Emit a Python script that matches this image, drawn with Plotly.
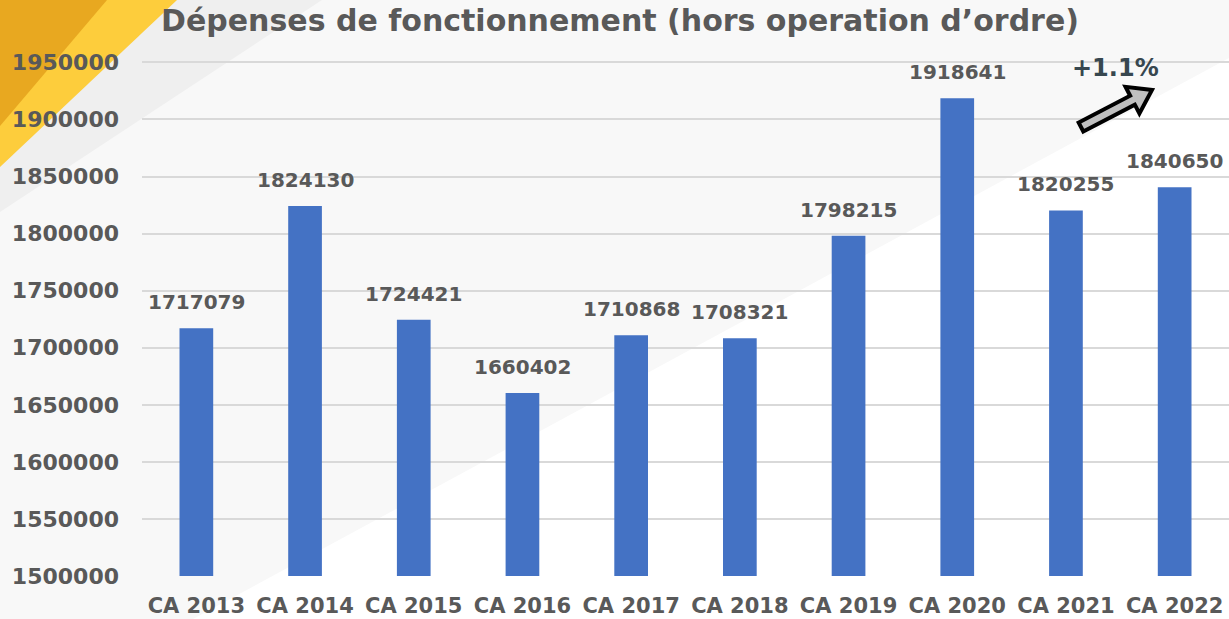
import math
import plotly.graph_objects as go

categories = ["CA 2013", "CA 2014", "CA 2015", "CA 2016", "CA 2017",
              "CA 2018", "CA 2019", "CA 2020", "CA 2021", "CA 2022"]
values = [1717079, 1824130, 1724421, 1660402, 1710868,
          1708321, 1798215, 1918641, 1820255, 1840650]
y_ticks = [1500000, 1550000, 1600000, 1650000, 1700000, 1750000,
           1800000, 1850000, 1900000, 1950000]
title_text = "Dépenses de fonctionnement (hors operation d’ordre)"
growth_text = "+1.1%"

W, H = 1229, 619
ML, MR, MT, MB = 142, 0, 51, 43
PW, PH = W - ML - MR, H - MT - MB

FONT = "DejaVu Sans"
GREY = "#595959"


def pp(x, y):
    return (x - ML) / PW, (H - MB - y) / PH


def path(points):
    parts = []
    for i, (x, y) in enumerate(points):
        xp, yp = pp(x, y)
        parts.append(("M" if i == 0 else "L") + f"{xp:.5f},{yp:.5f}")
    return " ".join(parts) + " Z"


fig = go.Figure()
fig.add_trace(go.Bar(
    x=categories, y=values, width=0.31,
    marker=dict(color="#4472c4", line=dict(width=0)),
    hoverinfo="x+y", showlegend=False,
))

for c, v in zip(categories, values):
    fig.add_annotation(x=c, y=v, text=f"<b>{v}</b>", showarrow=False,
                       xanchor="center", yanchor="bottom", yshift=12,
                       font=dict(family=FONT, size=20, color=GREY))

shapes = []
# background layers
shapes.append(dict(type="path", xref="paper", yref="paper", layer="below",
                   path=path([(1229, 58), (1229, 619), (193, 619)]),
                   fillcolor="#ffffff", line=dict(width=0)))
shapes.append(dict(type="path", xref="paper", yref="paper", layer="below",
                   path=path([(0, 0), (322, 0), (0, 212)]),
                   fillcolor="#efefef", line=dict(width=0)))
shapes.append(dict(type="path", xref="paper", yref="paper", layer="below",
                   path=path([(0, 0), (177, 0), (0, 167)]),
                   fillcolor="#fdcd3c", line=dict(width=0)))
shapes.append(dict(type="path", xref="paper", yref="paper", layer="below",
                   path=path([(0, 0), (107, 0), (0, 126)]),
                   fillcolor="#e8a820", line=dict(width=0)))

# block arrow
tx, ty = 1081, 127
hx, hy = 1152, 90
dx, dy = hx - tx, hy - ty
L = math.hypot(dx, dy)
ux, uy = dx / L, dy / L
nx, ny = -uy, ux
hw, hh, hl = 5, 15, 22
bx, by = hx - ux * hl, hy - uy * hl
arrow_pts = [
    (tx + nx * hw, ty + ny * hw),
    (bx + nx * hw, by + ny * hw),
    (bx + nx * hh, by + ny * hh),
    (hx, hy),
    (bx - nx * hh, by - ny * hh),
    (bx - nx * hw, by - ny * hw),
    (tx - nx * hw, ty - ny * hw),
]
shapes.append(dict(type="path", xref="paper", yref="paper", layer="above",
                   path=path(arrow_pts), fillcolor="#bfbfbf",
                   line=dict(color="#000000", width=4)))

gx, gy = pp(1115, 68)
fig.add_annotation(xref="paper", yref="paper", x=gx, y=gy,
                   xanchor="center", yanchor="middle",
                   text=f"<b>{growth_text}</b>", showarrow=False,
                   font=dict(family=FONT, size=24, color="#37474f"))

tx0, ty0 = pp(620, 20)
fig.update_layout(
    width=W, height=H,
    margin=dict(l=ML, r=MR, t=MT, b=MB, pad=0),
    paper_bgcolor="#f8f8f8",
    plot_bgcolor="rgba(0,0,0,0)",
    shapes=shapes,
    title=dict(text=f"<b>{title_text}</b>", x=tx0, y=1 - 20 / H,
               xref="paper", yref="container", xanchor="center", yanchor="middle",
               font=dict(family=FONT, size=30, color=GREY)),
    xaxis=dict(showgrid=False, showline=False, zeroline=False, ticks="",
               tickfont=dict(family=FONT, size=21, color=GREY),
               ticklabelstandoff=15),
    yaxis=dict(range=[1500000, 1960000], tickvals=y_ticks,
               ticktext=[f"<b>{t}</b>" for t in y_ticks],
               showgrid=True, gridcolor="#d9d9d9", gridwidth=2,
               zeroline=False, showline=False, ticks="",
               tickfont=dict(family=FONT, size=22, color=GREY),
               ticklabelstandoff=22),
    bargap=0.69,
)
fig.update_xaxes(tickvals=categories, ticktext=[f"<b>{c}</b>" for c in categories])

fig.write_html("out.html",
               config={"displayModeBar": False},
               post_script="document.body.style.margin='0';document.body.style.overflow='hidden';")
